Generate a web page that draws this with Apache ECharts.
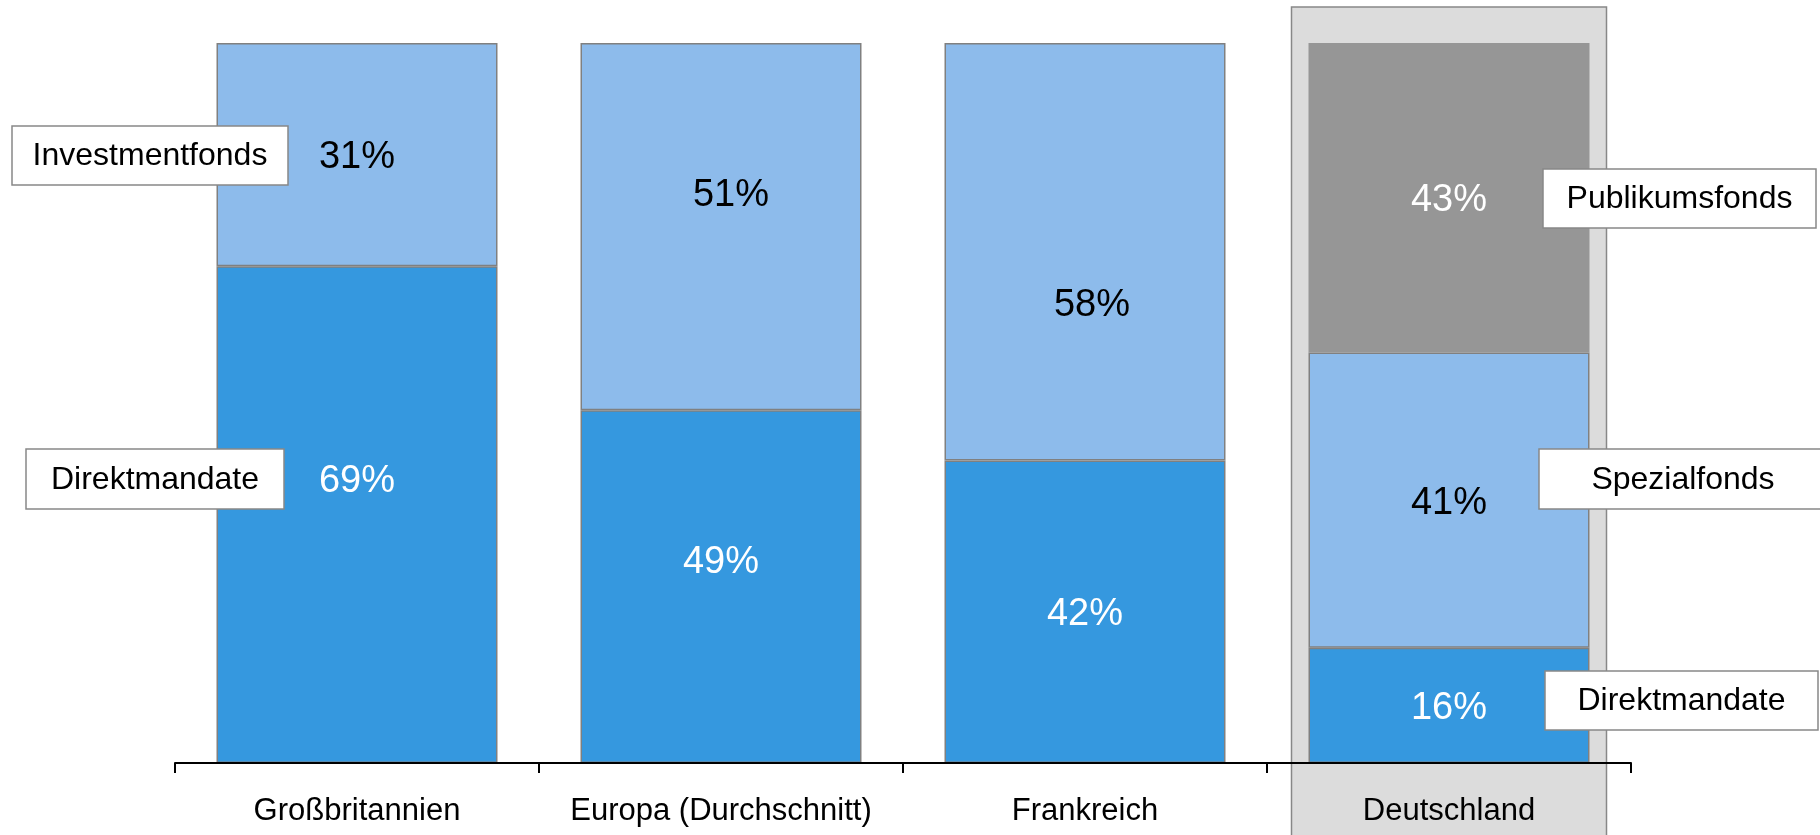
<!DOCTYPE html>
<html>
<head>
<meta charset="utf-8">
<script src="https://cdn.jsdelivr.net/npm/echarts@6/dist/echarts.min.js"></script>
<style>
  html, body { margin: 0; padding: 0; background: #ffffff; }
  #chart { width: 1820px; height: 835px; }
</style>
</head>
<body>
<div id="chart"></div>
<script>
// ---- data ----
const categories = ['Großbritannien', 'Europa (Durchschnitt)', 'Frankreich', 'Deutschland'];
const direktmandate = [69, 49, 42, 16];
const fonds = [31, 51, 58, 41];            // Investmentfonds (GB/EU/FR) / Spezialfonds (DE)
const publikumsfonds = ['-', '-', '-', 43];
const highlightCategory = 'Deutschland';

// ---- styles ----
const FONT = '"Liberation Sans", Arial, Helvetica, sans-serif';
const C_DARK = '#3598DF';
const C_LIGHT = '#8DBBEB';
const C_GRAY = '#969696';
const C_BORDER = '#808080';

// label nudges (style only), keyed by category index
const darkLabelOffsets = { 0: [0, -33], 1: [0, -24] };
const lightLabelOffsets = { 1: [10, -31], 2: [7, 54] };
const BASE_OFFSET = [0, 3];

function withLabels(values, offsets) {
  return values.map((v, i) => {
    if (offsets[i]) return { value: v, label: { offset: offsets[i] } };
    return v;
  });
}

const labelBase = {
  show: true,
  position: 'inside',
  fontFamily: FONT,
  fontSize: 38,
  offset: BASE_OFFSET,
  formatter: p => p.value + '%'
};

const chart = echarts.init(document.getElementById('chart'), null, { renderer: 'canvas' });

const option = {
  backgroundColor: '#ffffff',
  animation: false,
  grid: { left: 175, right: 189, top: 43, bottom: 72, containLabel: false },
  xAxis: {
    type: 'category',
    data: categories,
    boundaryGap: true,
    axisLine: { show: true, lineStyle: { color: '#000000', width: 2 } },
    axisTick: { show: true, interval: 0, length: 10, lineStyle: { color: '#000000', width: 2 } },
    axisLabel: { interval: 0, color: '#000000', fontFamily: FONT, fontSize: 31, margin: 33 },
    z: 5
  },
  yAxis: {
    type: 'value', min: 0, max: 100, show: false,
    splitLine: { show: false }
  },
  series: [
    {
      name: 'Direktmandate', type: 'bar', stack: 'total', barWidth: 281,
      data: withLabels(direktmandate, darkLabelOffsets),
      itemStyle: { color: C_DARK, borderColor: C_BORDER, borderWidth: 1.5 },
      label: Object.assign({}, labelBase, { color: '#ffffff' }),
      z: 3
    },
    {
      name: 'Fonds', type: 'bar', stack: 'total', barWidth: 281,
      data: withLabels(fonds, lightLabelOffsets),
      itemStyle: { color: C_LIGHT, borderColor: C_BORDER, borderWidth: 1.5 },
      label: Object.assign({}, labelBase, { color: '#000000' }),
      z: 3
    },
    {
      name: 'Publikumsfonds', type: 'bar', stack: 'total', barWidth: 281,
      data: publikumsfonds,
      itemStyle: { color: C_GRAY, borderColor: C_GRAY, borderWidth: 0 },
      label: Object.assign({}, labelBase, { color: '#ffffff' }),
      z: 3
    }
  ]
};

chart.setOption(option);

// ---- graphic annotations ----
const hx = chart.convertToPixel({ xAxisIndex: 0 }, highlightCategory);
const hlWidth = 315;

function annBox(text, x, y, w, h) {
  return {
    type: 'group', x: x, y: y, z: 100,
    children: [
      { type: 'rect', shape: { x: 0, y: 0, width: w, height: h },
        style: { fill: '#ffffff', stroke: '#888888', lineWidth: 1.5 }, z: 100 },
      { type: 'text', x: w / 2, y: h / 2 + 1, z: 101,
        style: { text: text, fill: '#000000', font: '32px ' + FONT, align: 'center', verticalAlign: 'middle' } }
    ]
  };
}

chart.setOption({
  graphic: [
    {
      type: 'rect', z: -10, zlevel: 0,
      shape: { x: hx - hlWidth / 2, y: 7, width: hlWidth, height: 840 },
      style: { fill: '#DCDCDC', stroke: '#888888', lineWidth: 1.5 }
    },
    annBox('Investmentfonds', 12, 126, 276, 59),
    annBox('Direktmandate', 26, 449, 258, 60),
    annBox('Publikumsfonds', 1543, 169, 273, 59),
    annBox('Spezialfonds', 1539, 449, 288, 60),
    annBox('Direktmandate', 1545, 671, 273, 59)
  ]
});
</script>
</body>
</html>
